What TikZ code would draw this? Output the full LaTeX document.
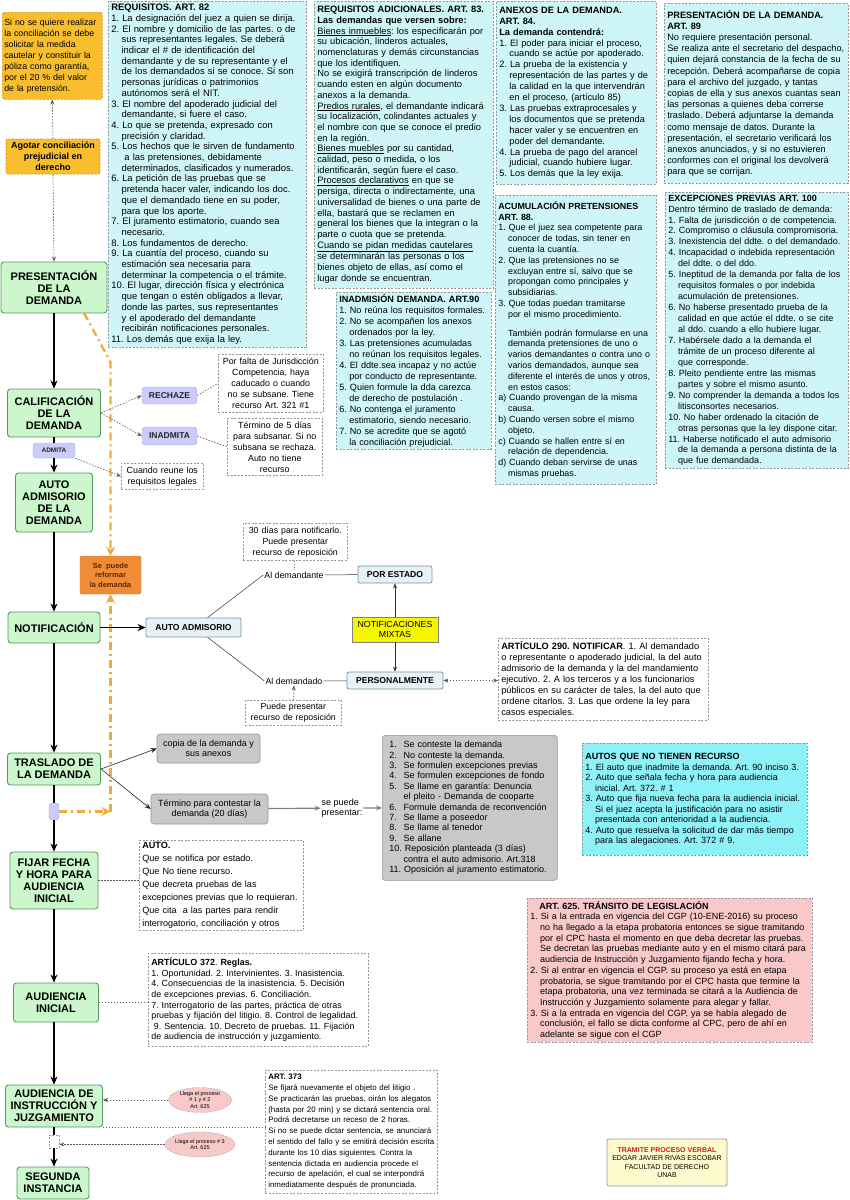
\documentclass[tikz,border=0pt]{standalone}
\usepackage{fontspec}
\setmainfont{Liberation Sans}
\usetikzlibrary{arrows.meta,positioning,shapes.geometric}

\definecolor{verde}{RGB}{204,247,204}
\definecolor{verdeborde}{RGB}{90,150,100}
\definecolor{cianclaro}{RGB}{206,246,248}
\definecolor{cianfuerte}{RGB}{142,241,248}
\definecolor{lila}{RGB}{204,204,250}
\definecolor{lilaborde}{RGB}{170,170,225}
\definecolor{oro}{RGB}{248,190,45}
\definecolor{oroborde}{RGB}{205,145,20}
\definecolor{naranja}{RGB}{240,140,55}
\definecolor{lineanaranja}{RGB}{242,170,60}
\definecolor{marron}{RGB}{90,40,0}
\definecolor{rosa}{RGB}{249,200,200}
\definecolor{gris}{RGB}{200,200,200}
\definecolor{bordegris}{RGB}{150,150,150}
\definecolor{azulclaro}{RGB}{232,241,246}
\definecolor{azulborde}{RGB}{120,150,165}
\definecolor{amarillo}{RGB}{246,246,0}
\definecolor{crema}{RGB}{255,250,205}
\definecolor{rojo}{RGB}{200,30,30}

\newcommand{\letra}[2]{\fontsize{#1}{#2}\selectfont}
\newcommand{\sang}{\hspace*{1.1em}}
\newcommand{\itm}[1]{\makebox[1.6em][l]{#1}}

\begin{document}
\frenchspacing
\begin{tikzpicture}[
    x=1pt, y=-1pt,
    >=Stealth,
    etapa/.style={
        draw=verdeborde,
        fill=verde,
        rounded corners=3pt,
        line width=0.9pt,
        align=center,
        inner sep=1pt,
        font=\bfseries\letra{11}{12}
    },
    caja/.style={
        draw=bordegris,
        dash pattern=on 2pt off 1.5pt,
        line width=0.6pt,
        fill=white,
        anchor=north west,
        align=left,
        inner xsep=3pt,
        inner ysep=2pt,
        font=\letra{9.2}{11}
    },
    cajacian/.style={
        caja,
        fill=cianclaro
    },
    nota/.style={
        caja,
        align=center,
        font=\letra{8.9}{11}
    },
    dorada/.style={
        draw=oroborde,
        dash pattern=on 2pt off 1.5pt,
        line width=0.6pt,
        fill=oro,
        rounded corners=2pt
    },
    etiqueta/.style={
        draw=lilaborde,
        fill=lila,
        rounded corners=3pt,
        inner sep=1pt,
        text=black!85,
        font=\bfseries\letra{8.5}{10}
    },
    autobox/.style={
        draw=azulborde,
        fill=azulclaro,
        rounded corners=2pt,
        line width=0.8pt,
        inner sep=1pt,
        font=\bfseries\letra{8.6}{10}
    },
    grisbox/.style={
        draw=bordegris,
        fill=gris,
        rounded corners=3pt,
        line width=0.6pt,
        align=center,
        inner sep=1pt,
        font=\letra{9}{10.5}
    },
    globo/.style={
        ellipse,
        draw=bordegris,
        dash pattern=on 1.5pt off 1.5pt,
        fill=rosa,
        inner sep=0pt,
        minimum width=63pt,
        minimum height=25pt,
        align=center,
        font=\letra{5.5}{6.5}
    },
    flecha/.style={
        -{Stealth[length=8pt,width=7pt]},
        line width=1.5pt
    },
    tramo/.style={
        line width=1.5pt
    },
    linea/.style={
        line width=0.5pt,
        draw=black!80
    },
    fina/.style={
        -{Stealth[length=6pt,width=5pt]},
        line width=0.6pt,
        draw=black!85
    },
    grisflecha/.style={
        -{Stealth[length=6pt,width=5pt]},
        line width=1.2pt,
        draw=black!50
    },
    punteada/.style={
        line width=0.6pt,
        draw=black!65,
        dash pattern=on 1.5pt off 1.5pt
    },
    puntaflecha/.style={
        -{Stealth[length=5pt,width=4pt]}
    },
    naranjado/.style={
        draw=lineanaranja,
        line width=2.4pt,
        dash pattern=on 8pt off 4pt on 2pt off 4pt
    },
    puntanaranja/.style={
        -{Stealth[length=9pt,width=9pt]}
    }
]

\useasboundingbox (0,0) rectangle (850,1200);

% columna de etapas
\node[dorada, anchor=north west, text width=96pt, minimum height=87pt, align=left, inner xsep=2pt, font=\letra{8.8}{11}] (sino) at (2,12)
{Si no se quiere realizar\\la conciliación se debe\\solicitar la medida\\cautelar y constituir la\\póliza como garantía,\\por el 20 \% del valor\\de la pretensión.};
\node[dorada, minimum width=94pt, minimum height=35pt, align=center, inner sep=1pt, font=\bfseries\letra{9}{11}] (agotar) at (53,156.5)
{Agotar conciliación\\prejudicial en\\derecho};

\node[etapa, minimum width=106pt, minimum height=51pt] (presentacion) at (54,287.5) {PRESENTACIÓN\\DE LA\\DEMANDA};
\node[etapa, minimum width=93pt, minimum height=48pt] (calificacion) at (54,413) {CALIFICACIÓN\\DE LA\\DEMANDA};
\node[etiqueta, minimum width=42pt, minimum height=15pt, font=\bfseries\letra{6.5}{8}] (admita) at (54,450.5) {ADMITA};
\node[etapa, minimum width=77pt, minimum height=59pt] (admision) at (54,502.5) {AUTO\\ADMISORIO\\DE LA\\DEMANDA};
\node[etapa, minimum width=92pt, minimum height=31pt] (notificacion) at (54,627.5) {NOTIFICACIÓN};
\node[etapa, minimum width=93pt, minimum height=32pt] (traslado) at (54,769) {TRASLADO DE\\LA DEMANDA};
\node[etiqueta, minimum width=10pt, minimum height=17pt] (pausa) at (54,811.5) {};
\node[etapa, minimum width=88pt, minimum height=57pt] (fijar) at (54,880.5) {FIJAR FECHA\\Y HORA PARA\\AUDIENCIA\\INICIAL};
\node[etapa, minimum width=85pt, minimum height=39pt] (audinicial) at (56,1002.5) {AUDIENCIA\\INICIAL};
\node[etapa, minimum width=97pt, minimum height=42pt] (audinstruccion) at (54,1106) {AUDIENCIA DE\\INSTRUCCIÓN Y\\JUZGAMIENTO};
\node[caja, anchor=center, minimum width=10pt, minimum height=13pt, inner sep=0pt] (marca) at (54,1141.5) {};
\node[etapa, minimum width=72pt, minimum height=32pt] (segunda) at (53,1183) {SEGUNDA\\INSTANCIA};

\node[draw=naranja!80!black, fill=naranja, rounded corners=2pt, minimum width=61pt, minimum height=38pt, align=center, inner sep=1pt, text=marron, font=\bfseries\letra{7.5}{9.5}] (reformar) at (110.5,575)
{Se\ \ puede\\reformar\\la demanda};

\draw[punteada, puntaflecha] (agotar.north) -- (sino.south);
\draw[punteada, puntaflecha] (agotar.south) -- (presentacion.north);
\draw[flecha] (presentacion) -- (calificacion);
\draw[tramo] (calificacion) -- (admita);
\draw[flecha] (admita) -- (admision);
\draw[flecha] (admision) -- (notificacion);
\draw[flecha] (notificacion) -- (traslado);
\draw[tramo] (traslado) -- (pausa);
\draw[flecha] (pausa) -- (fijar);
\draw[flecha] (fijar) -- (audinicial.north -| fijar);
\draw[flecha] (audinicial.south -| audinstruccion) -- (audinstruccion);
\draw[tramo] (audinstruccion) -- (marca);
\draw[flecha] (marca) -- (segunda.north -| marca);

% camino naranja
\coordinate (quiebre1) at (84,313);
\coordinate (quiebre2) at (110.5,362);
\coordinate (quiebre3) at (110.5,811.5);
\draw[naranjado, puntanaranja] (quiebre1) -- (quiebre2) -- (reformar.north);
\draw[naranjado, puntanaranja] (pausa.east) -- (quiebre3);
\draw[naranjado, puntanaranja] (quiebre3) -- (reformar.south);

% articulos de arriba
\node[cajacian, text width=192pt, minimum height=346pt, font=\letra{9.4}{10.7}] (art82) at (108,1)
{\textbf{REQUISITOS. ART. 82}\\
1. La designación del juez a quien se dirija.\\
2. El nombre y domicilio de las partes. o de\\
\sang sus representantes legales. Se deberá\\
\sang indicar el \# de identificación del\\
\sang demandante y de su representante y el\\
\sang de los demandados si se conoce. Si son\\
\sang personas jurídicas o patrimonios\\
\sang autónomos será el NIT.\\
3. El nombre del apoderado judicial del\\
\sang demandante, si fuere el caso.\\
4. Lo que se pretenda, expresado con\\
\sang precisión y claridad.\\
5. Los hechos que le sirven de fundamento\\
\hspace*{1.4em}a las pretensiones, debidamente\\
\sang determinados, clasificados y numerados.\\
6. La petición de las pruebas que se\\
\sang pretenda hacer valer, indicando los doc.\\
\sang que el demandado tiene en su poder,\\
\sang para que los aporte.\\
7. El juramento estimatorio, cuando sea\\
\sang necesario.\\
8. Los fundamentos de derecho.\\
9. La cuantía del proceso, cuando su\\
\sang estimación sea necesaria para\\
\sang determinar la competencia o el trámite.\\
10. El lugar, dirección física y electrónica\\
\sang que tengan o estén obligados a llevar,\\
\sang donde las partes, sus representantes\\
\sang y el apoderado del demandante\\
\sang recibirán notificaciones personales.\\
11. Los demás que exija la ley.};

\node[cajacian, text width=173pt, minimum height=287pt, font=\letra{9.3}{10.7}] (art83) at (314,1)
{\textbf{REQUISITOS ADICIONALES. ART. 83.}\\
\textbf{Las demandas que versen sobre:}\\
\underline{Bienes inmuebles}: los especificarán por\\
su ubicación, linderos actuales,\\
nomenclaturas y demás circunstancias\\
que los identifiquen.\\
No se exigirá transcripción de linderos\\
cuando esten en algún documento\\
anexos a la demanda.\\
\underline{Predios rurales}, el demandante indicará\\
su localización, colindantes actuales y\\
el nombre con que se conoce el predio\\
en la región.\\
\underline{Bienes muebles} por su cantidad,\\
calidad, peso o medida, o los\\
identificarán, según fuere el caso.\\
\underline{Procesos declarativos} en que se\\
persiga, directa o indirectamente, una\\
universalidad de bienes o una parte de\\
ella, bastará que se reclamen en\\
general los bienes que la integran o la\\
parte o cuota que se pretenda.\\
\underline{Cuando se pidan medidas cautelares}\\
se determinarán las personas o los\\
bienes objeto de ellas, así como el\\
lugar donde se encuentran.};

\node[cajacian, text width=154pt, minimum height=183pt, font=\letra{9.2}{10.9}] (art84) at (496,1)
{\textbf{ANEXOS DE LA DEMANDA.}\\
\textbf{ART. 84.}\\
\textbf{La demanda contendrá:}\\
1. El poder para iniciar el proceso,\\
\sang cuando se actúe por apoderado.\\
2. La prueba de la existencia y\\
\sang representación de las partes y de\\
\sang la calidad en la que intervendrán\\
\sang en el proceso, (artículo 85)\\
3. Las pruebas extraprocesales y\\
\sang los documentos que se pretenda\\
\sang hacer valer y se encuentren en\\
\sang poder del demandante.\\
4. La prueba de pago del arancel\\
\sang judicial, cuando hubiere lugar.\\
5. Los demás que la ley exija.};

\node[cajacian, text width=178pt, minimum height=180pt, font=\letra{9.2}{11.2}] (art89) at (664,3)
{\textbf{PRESENTACIÓN DE LA DEMANDA.}\\
\textbf{ART. 89}\\
No requiere presentación personal.\\
Se realiza ante el secretario del despacho,\\
quien dejará constancia de la fecha de su\\
recepción. Deberá acompañarse de copia\\
para el archivo del juzgado, y tantas\\
copias de ella y sus anexos cuantas sean\\
las personas a quienes deba correrse\\
traslado. Deberá adjuntarse la demanda\\
como mensaje de datos. Durante la\\
presentación, el secretario verificará los\\
anexos anunciados, y si no estuvieren\\
conformes con el original los devolverá\\
para que se corrijan.};

\node[cajacian, text width=155pt, minimum height=289pt, font=\letra{8.9}{10.8}] (art88) at (495,195)
{\textbf{ACUMULACIÓN PRETENSIONES}\\
\textbf{ART. 88.}\\
1. Que el juez sea competente para\\
\sang conocer de todas, sin tener en\\
\sang cuenta la cuantía.\\
2. Que las pretensiones no se\\
\sang excluyan entre sí, salvo que se\\
\sang propongan como principales y\\
\sang subsidiarias.\\
3. Que todas puedan tramitarse\\
\sang por el mismo procedimiento.\\[8pt]
\sang También podrán formularse en una\\
\sang demanda pretensiones de uno o\\
\sang varios demandantes o contra uno o\\
\sang varios demandados, aunque sea\\
\sang diferente el interés de unos y otros,\\
\sang en estos casos:\\
a) Cuando provengan de la misma\\
\sang causa.\\
b) Cuando versen sobre el mismo\\
\sang objeto.\\
c) Cuando se hallen entre sí en\\
\sang relación de dependencia.\\
d) Cuando deban servirse de unas\\
\sang mismas pruebas.};

\node[cajacian, text width=177pt, minimum height=276pt, font=\letra{9}{10.95}] (art100) at (665,192)
{\textbf{EXCEPCIONES PREVIAS ART. 100}\\
Dentro término de traslado de demanda:\\
1. Falta de jurisdicción o de competencia.\\
2. Compromiso o cláusula compromisoria.\\
3. Inexistencia del ddte. o del demandado.\\
4. Incapacidad o indebida representación\\
\sang del ddte. o del ddo.\\
5. Ineptitud de la demanda por falta de los\\
\sang requisitos formales o por indebida\\
\sang acumulación de pretensiones.\\
6. No haberse presentado prueba de la\\
\sang calidad en que actúe el ddte. o se cite\\
\sang al ddo. cuando a ello hubiere lugar.\\
7. Habérsele dado a la demanda el\\
\sang trámite de un proceso diferente al\\
\sang que corresponde.\\
8. Pleito pendiente entre las mismas\\
\sang partes y sobre el mismo asunto.\\
9. No comprender la demanda a todos los\\
\sang litisconsortes necesarios.\\
10. No haber ordenado la citación de\\
\sang otras personas que la ley dispone citar.\\
11. Haberse notificado el auto admisorio\\
\sang de la demanda a persona distinta de la\\
\sang que fue demandada.};

\node[cajacian, text width=149pt, minimum height=154pt, font=\letra{9.1}{11}] (art90) at (336,292)
{\textbf{INADMISIÓN DEMANDA. ART.90}\\
1. No reúna los requisitos formales.\\
2. No se acompañen los anexos\\
\sang ordenados por la ley.\\
3. Las pretensiones acumuladas\\
\sang no reúnan los requisitos legales.\\
4. El ddte.sea incapaz y no actúe\\
\sang por conducto de representante.\\
5. Quien formule la dda carezca\\
\sang de derecho de postulación .\\
6. No contenga el juramento\\
\sang estimatorio, siendo necesario.\\
7. No se acredite que se agotó\\
\sang la conciliación prejudicial.};

% calificacion
\node[etiqueta, minimum width=55pt, minimum height=17pt] (rechaze) at (169.5,395.5) {RECHAZE};
\node[etiqueta, minimum width=55pt, minimum height=18pt] (inadmita) at (169.5,436) {INADMITA};
\node[nota, text width=99pt, minimum height=58pt] (porfalta) at (218,354)
{Por falta de Jurisdicción\\Competencia, haya\\caducado o cuando\\no se subsane. Tiene\\recurso Art. 321 \#1};
\node[nota, text width=89pt, minimum height=57pt] (plazo) at (227,418)
{Término de 5 días\\para subsanar. Si no\\subsana se rechaza.\\Auto no tiene\\recurso};
\node[nota, text width=76pt, minimum height=26pt] (cuandoreune) at (121,463)
{Cuando reune los\\requisitos legales};

\draw[punteada, puntaflecha] (calificacion.east) -- (rechaze.west);
\draw[punteada, puntaflecha] (calificacion.east) -- (inadmita.west);
\draw[punteada] (rechaze.east) -- (porfalta.west);
\draw[punteada] (inadmita.east) -- (plazo.west);
\draw[punteada, puntaflecha] (admita.south east) -- (cuandoreune.west);

% notificacion
\node[autobox, minimum width=95pt, minimum height=19pt] (autoadmisorio) at (193.5,627.5) {AUTO ADMISORIO};
\node[inner sep=1pt, font=\letra{8.8}{10}] (aldemandante) at (294,575) {Al demandante};
\node[inner sep=1pt, font=\letra{8.8}{10}] (aldemandado) at (294,681) {Al demandado};
\node[autobox, minimum width=74pt, minimum height=17pt] (porestado) at (395,574.5) {POR ESTADO};
\node[draw=black!50, fill=amarillo, minimum width=86pt, minimum height=25pt, align=center, inner sep=1pt, font=\letra{8.8}{10}] (mixtas) at (395,629.5) {NOTIFICACIONES\\MIXTAS};
\node[autobox, minimum width=96pt, minimum height=17pt] (personal) at (395,680.5) {PERSONALMENTE};
\node[nota, text width=98pt, minimum height=37pt, font=\letra{8.8}{11}] (treinta) at (243,523)
{30 días para notificarlo.\\Puede presentar\\recurso de reposición};
\node[nota, text width=90pt, minimum height=25pt, font=\letra{8.8}{11}] (reposicion) at (245,700)
{Puede presentar\\recurso de reposición};
\node[caja, text width=204pt, minimum height=82pt] (art290) at (498,638)
{\textbf{ARTÍCULO 290. NOTIFICAR}. 1. Al demandado\\
o representante o apoderado judicial, la del auto\\
admisorio de la demanda y la del mandamiento\\
ejecutivo. 2. A los terceros y a los funcionarios\\
públicos en su carácter de tales, la del auto que\\
ordene citarlos. 3. Las que ordene la ley para\\
casos especiales.};

\draw[flecha] (notificacion) -- (autoadmisorio);
\draw[linea] (autoadmisorio.35) -- (aldemandante.west);
\draw[linea] (autoadmisorio.-35) -- (aldemandado.west);
\draw[linea] (aldemandante) -- (porestado);
\draw[linea] (aldemandado) -- (personal);
\draw[linea, -{Stealth[length=5pt,width=4pt]}] (mixtas) -- (porestado);
\draw[linea, -{Stealth[length=5pt,width=4pt]}] (mixtas) -- (personal);
\draw[punteada] (treinta) -- (aldemandante);
\draw[punteada, puntaflecha] (reposicion) -- (aldemandado);
\draw[punteada, {Stealth[length=5pt,width=4pt]}-{Stealth[length=5pt,width=4pt]}] (personal.east) -- (personal.east -| art290.west);

% traslado
\node[grisbox, minimum width=103pt, minimum height=29pt] (copia) at (208.5,748.5) {copia de la demanda y\\sus anexos};
\node[grisbox, minimum width=117pt, minimum height=30pt] (plazocontestar) at (209.5,809) {Término para contestar la\\demanda (20 días)};
\node[align=left, inner sep=1pt, font=\letra{9}{10.5}] (sepuede) at (342,808) {se puede\\presentar:};
\node[grisbox, anchor=north west, align=left, text width=161pt, inner xsep=7pt, minimum height=145pt, font=\letra{9}{10.4}] (opciones) at (382,735)
{\itm{1.}Se conteste la demanda\\
\itm{2.}No conteste la demanda.\\
\itm{3.}Se formulen excepciones previas\\
\itm{4.}Se formulen excepciones de fondo\\
\itm{5.}Se llame en garantía: Denuncia\\
\itm{}el pleito - Demanda de cooparte\\
\itm{6.}Formule demanda de reconvención\\
\itm{7.}Se llame a poseedor\\
\itm{8.}Se llame al tenedor\\
\itm{9.}Se allane\\
10. Reposición planteada (3 días)\\
\itm{}contra el auto admisorio. Art.318\\
11. Oposición al juramento estimatorio.};

\draw[fina] (traslado.east) -- (copia.west);
\draw[fina] (traslado.east) -- (plazocontestar.west);
\draw[grisflecha] (plazocontestar) -- (sepuede);
\draw[grisflecha] (sepuede) -- (opciones);

\node[caja, fill=cianfuerte, text width=219pt, minimum height=112pt, font=\letra{9}{10.5}] (sinrecurso) at (582,743)
{\textbf{AUTOS QUE NO TIENEN RECURSO}\\
1. El auto que inadmite la demanda. Art. 90 inciso 3.\\
2. Auto que señala fecha y hora para audiencia\\
\sang inicial. Art. 372. \# 1\\
3. Auto que fija nueva fecha para la audiencia inicial.\\
\sang Si el juez acepta la justificación para no asistir\\
\sang presentada con anterioridad a la audiencia.\\
4. Auto que resuelva la solicitud de dar más tiempo\\
\sang para las alegaciones. Art. 372 \# 9.};

% audiencias
\node[caja, text width=158pt, minimum height=82pt, font=\letra{9.1}{13}] (autonota) at (139,840)
{\textbf{AUTO.}\\
Que se notifica por estado.\\
Que No tiene recurso.\\
Que decreta pruebas de las\\
excepciones previas que lo requieran.\\
Que cita\ \ a las partes para rendir\\
interrogatorio, conciliación y otros};
\draw[punteada] (fijar) -- (fijar -| autonota.west);

\node[caja, fill=rosa, text width=279pt, minimum height=144pt, font=\letra{9}{10.7}] (art625) at (527,898)
{\hspace*{1em}\textbf{ART. 625. TRÁNSITO DE LEGISLACIÓN}\\
1. Si a la entrada en vigencia del CGP (10-ENE-2016) su proceso\\
\sang no ha llegado a la etapa probatoria entonces se sigue tramitando\\
\sang por el CPC hasta el momento en que deba decretar las pruebas.\\
\sang Se decretan las pruebas mediante auto y en el mismo citará para\\
\sang audiencia de Instrucción y Juzgamiento fijando fecha y hora.\\
2. Si al entrar en vigencia el CGP. su proceso ya está en etapa\\
\sang probatoria, se sigue tramitando por el CPC hasta que termine la\\
\sang etapa probatoria, una vez terminada se citará a la Audiencia de\\
\sang Instrucción y Juzgamiento solamente para alegar y fallar.\\
3. Si a la entrada en vigencia del CGP. ya se había alegado de\\
\sang conclusión, el fallo se dicta conforme al CPC, pero de ahí en\\
\sang adelante se sigue con el CGP};

\node[caja, text width=214pt, minimum height=93pt, font=\letra{8.9}{10.6}] (art372) at (148,953)
{\textbf{ARTÍCULO 372}. \textbf{Reglas.}\\
1. Oportunidad. 2. Intervinientes. 3. Inasistencia.\\
4. Consecuencias de la inasistencia. 5. Decisión\\
de excepciones previas. 6. Conciliación.\\
7. Interrogatorio de las partes, práctica de otras\\
pruebas y fijación del litigio. 8. Control de legalidad.\\
\hspace*{0.3em}9. Sentencia. 10. Decreto de pruebas. 11. Fijación\\
de audiencia de instrucción y juzgamiento.};
\draw[punteada] (audinicial.east) -- (audinicial.east -| art372.west);

\node[caja, text width=166pt, minimum height=123pt, font=\letra{7.9}{10.8}] (art373) at (265,1070)
{\textbf{ART. 373}\\
Se fijará nuevamente el objeto del litigio .\\
Se practicarán las pruebas, oirán los alegatos\\
(hasta por 20 min) y se dictará sentencia oral.\\
Podrá decretarse un receso de 2 horas.\\
Si no se puede dictar sentencia, se anunciará\\
el sentido del fallo y se emitirá decisión escrita\\
durante los 10 días siguientes. Contra la\\
sentencia dictada en audiencia procede el\\
recurso de apelación, el cual se interpondrá\\
inmediatamente después de pronunciada.};
\draw[punteada] (audinstruccion.south east) -- (audinstruccion.south east -| art373.west);

\node[globo] (llega1) at (200,1100) {Llega el proceso\\\# 1 y \# 2\\Art. 625};
\node[globo] (llega2) at (200,1144.5) {Llega el proceso \# 3\\Art. 625};
\draw[punteada, puntaflecha] (llega1.west) -- (llega1.west -| audinstruccion.east);
\draw[punteada, puntaflecha] (llega2.west) -- (llega2.west -| marca.east);

\node[draw=black!40, fill=crema, rounded corners=2pt, line width=0.8pt, minimum width=120pt, minimum height=47pt, align=center, inner sep=1pt, font=\letra{7}{8.6}] (tramite) at (667,1162.5)
{\textcolor{rojo}{\bfseries TRAMITE PROCESO VERBAL}\\EDGAR JAVIER RIVAS ESCOBAR\\FACULTAD DE DERECHO\\UNAB};

\end{tikzpicture}
\end{document}
